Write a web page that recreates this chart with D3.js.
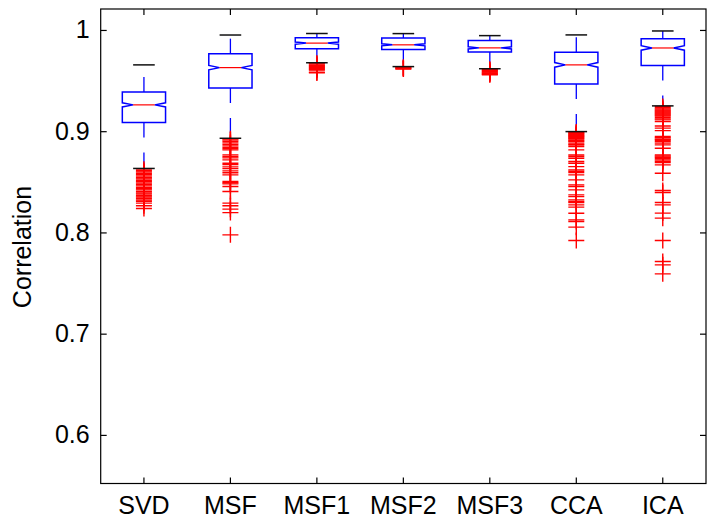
<!DOCTYPE html>
<html>
<head>
    <meta charset="utf-8">
    <title>Correlation boxplot</title>
    <script src="https://cdn.jsdelivr.net/npm/d3@7"></script>
    <style>
        html, body {
            margin: 0;
            background-color: #fff;
        }
        svg text {
            font-family: "Liberation Sans", Arial, Helvetica, sans-serif;
            font-size: 25px;
            fill: #000;
        }
        .axis path, .axis line {
            stroke: #000;
            stroke-width: 1.2;
        }
        .box { fill: none; stroke: #0000ff; stroke-width: 1.5; }
        .whisker { stroke: #0000ff; stroke-width: 1.3; stroke-dasharray: 15,15; }
        .cap { stroke: #111; stroke-width: 1.5; }
        .median { stroke: #ff0000; stroke-width: 1.2; }
        .outlier { stroke: #ff0000; stroke-width: 1.4; }
    </style>
</head>
<body>
<svg></svg>
<script>
    // categories and box statistics
    var categories = ['SVD', 'MSF', 'MSF1', 'MSF2', 'MSF3', 'CCA', 'ICA'];
    var upperWhisker = [0.9655, 0.9950, 0.9965, 0.9964, 0.9944, 0.9951, 0.9990];
    var q3           = [0.9388, 0.9766, 0.9924, 0.9920, 0.9896, 0.9780, 0.9914];
    var median       = [0.9260, 0.9628, 0.9870, 0.9853, 0.9823, 0.9655, 0.9822];
    var q1           = [0.9085, 0.9427, 0.9815, 0.9808, 0.9783, 0.9467, 0.9648];
    var lowerWhisker = [0.8632, 0.8930, 0.9676, 0.9638, 0.9617, 0.8996, 0.9250];
    var notch        = [0.0020, 0.0022, 0.0010, 0.0010, 0.0010, 0.0023, 0.0022];

    var outliersSVD = [0.8625, 0.8610, 0.8598, 0.8585, 0.8570, 0.8556, 0.8540, 0.8528, 0.8512,
        0.8500, 0.8487, 0.8473, 0.8460, 0.8445, 0.8432, 0.8420, 0.8405, 0.8390, 0.8378, 0.8362,
        0.8350, 0.8336, 0.8321, 0.8308, 0.8289, 0.8263, 0.8236];
    var outliersMSF = [0.8925, 0.8914, 0.8900, 0.8885, 0.8870, 0.8855, 0.8840, 0.8828, 0.8815,
        0.8766, 0.8750, 0.8736, 0.8717, 0.8684, 0.8670, 0.8648, 0.8630, 0.8608, 0.8590, 0.8569,
        0.8503, 0.8490, 0.8480, 0.8453, 0.8404, 0.8289, 0.8263, 0.8230, 0.8196, 0.7976];
    var outliersMSF1 = [0.9672, 0.9665, 0.9655, 0.9648, 0.9640, 0.9632, 0.9625, 0.9618, 0.9610,
        0.9603, 0.9582, 0.9576];
    var outliersMSF2 = [0.9632, 0.9625, 0.9620, 0.9615];
    var outliersMSF3 = [0.9612, 0.9605, 0.9598, 0.9590, 0.9583, 0.9576, 0.9570, 0.9563, 0.9557];
    var outliersCCA = [0.8993, 0.8985, 0.8978, 0.8970, 0.8962, 0.8955, 0.8947, 0.8940, 0.8932,
        0.8925, 0.8914, 0.8905, 0.8897, 0.8882, 0.8870, 0.8862, 0.8848, 0.8815, 0.8765, 0.8750,
        0.8733, 0.8700, 0.8684, 0.8650, 0.8618, 0.8605, 0.8591, 0.8569, 0.8519, 0.8470, 0.8453,
        0.8420, 0.8371, 0.8354, 0.8322, 0.8306, 0.8295, 0.8272, 0.8250, 0.8190, 0.8124, 0.8108,
        0.8052, 0.7920];
    var outliersICA = [0.9245, 0.9232, 0.9220, 0.9210, 0.9200, 0.9190, 0.9180, 0.9170, 0.9160,
        0.9150, 0.9135, 0.9122, 0.9112, 0.9095, 0.9052, 0.9030, 0.9006, 0.8947, 0.8935, 0.8920,
        0.8910, 0.8897, 0.8882, 0.8865, 0.8832, 0.8766, 0.8755, 0.8743, 0.8730, 0.8717, 0.8703,
        0.8690, 0.8667, 0.8585, 0.8414, 0.8394, 0.8295, 0.8272, 0.8191, 0.8141, 0.7920, 0.7713,
        0.7680, 0.7591];
    var outliers = [outliersSVD, outliersMSF, outliersMSF1, outliersMSF2,
                    outliersMSF3, outliersCCA, outliersICA];

    var yTicks = [0.6, 0.7, 0.8, 0.9, 1];
    var yLimits = [0.552, 1.0207];

    (function () {
        var w = 710,
            h = 525,
            plot = { left: 100.7, right: 706, top: 9, bottom: 483.5 },
            tick = 6,
            mk = 8;     // half size of the '+' marker

        var svg = d3.select('svg').attr('width', w).attr('height', h);

        var x = d3.scaleBand()
                .domain(categories)
                .range([plot.left, plot.right])
                .padding(0);

        var y = d3.scaleLinear()
                .domain(yLimits)
                .range([plot.bottom, plot.top]);

        var bw = x.bandwidth() * 0.25;   // half width of a box
        function cx(c) { return x(c) + x.bandwidth() / 2; }

        // axes, ticks pointing inwards on all four sides
        svg.append('g').attr('class', 'axis')
            .attr('transform', 'translate(0,' + plot.bottom + ')')
            .call(d3.axisBottom(x).tickSize(-tick).tickSizeOuter(0).tickPadding(13))
            .selectAll('text').attr('dy', '0.71em').style('font-size', '25px');

        svg.append('g').attr('class', 'axis')
            .attr('transform', 'translate(0,' + plot.top + ')')
            .call(d3.axisTop(x).tickSize(-tick).tickSizeOuter(0).tickFormat(''));

        svg.append('g').attr('class', 'axis')
            .attr('transform', 'translate(' + plot.left + ',0)')
            .call(d3.axisLeft(y).tickValues(yTicks).tickSize(-tick).tickSizeOuter(0)
                  .tickPadding(11).tickFormat(d3.format('~g')))
            .selectAll('text').style('font-size', '25px');

        svg.append('g').attr('class', 'axis')
            .attr('transform', 'translate(' + plot.right + ',0)')
            .call(d3.axisRight(y).tickValues(yTicks).tickSize(-tick).tickSizeOuter(0).tickFormat(''));

        svg.selectAll('.axis .domain').remove();
        svg.append('rect')
            .attr('x', plot.left).attr('y', plot.top)
            .attr('width', plot.right - plot.left)
            .attr('height', plot.bottom - plot.top)
            .style('fill', 'none').style('stroke', '#000').style('stroke-width', 1.2);

        svg.append('text')
            .attr('transform', 'translate(31,' + 247 + ')rotate(-90)')
            .attr('text-anchor', 'middle')
            .text('Correlation');

        var g = svg.append('g');

        categories.forEach(function (c, i) {
            var m = cx(c),
                L = m - bw, R = m + bw,
                Li = m - bw / 2, Ri = m + bw / 2;

            // whiskers drawn from the box edge outwards
            g.append('line').attr('class', 'whisker')
                .attr('x1', m).attr('x2', m)
                .attr('y1', y(q3[i])).attr('y2', y(upperWhisker[i]));
            g.append('line').attr('class', 'whisker')
                .attr('x1', m).attr('x2', m)
                .attr('y1', y(q1[i])).attr('y2', y(lowerWhisker[i]));

            // notched box
            var pts = [
                [L, y(q3[i])], [R, y(q3[i])], [R, y(median[i] + notch[i])],
                [Ri, y(median[i])], [R, y(median[i] - notch[i])], [R, y(q1[i])],
                [L, y(q1[i])], [L, y(median[i] - notch[i])], [Li, y(median[i])],
                [L, y(median[i] + notch[i])]
            ];
            g.append('path').attr('class', 'box')
                .attr('d', d3.line()(pts) + 'Z');

            g.append('line').attr('class', 'median')
                .attr('x1', Li).attr('x2', Ri)
                .attr('y1', y(median[i])).attr('y2', y(median[i]));

            // outliers as '+'
            g.append('g').selectAll('path')
                .data(outliers[i])
                .enter().append('path')
                .attr('class', 'outlier')
                .attr('d', function (v) {
                    var py = y(v);
                    return 'M' + (m - mk) + ',' + py + 'H' + (m + mk) +
                           'M' + m + ',' + (py - mk) + 'V' + (py + mk);
                });

            // whisker caps
            [upperWhisker[i], lowerWhisker[i]].forEach(function (v) {
                g.append('line').attr('class', 'cap')
                    .attr('x1', m - bw / 2).attr('x2', m + bw / 2)
                    .attr('y1', y(v)).attr('y2', y(v));
            });
        });
    })();
</script>
</body>
</html>
